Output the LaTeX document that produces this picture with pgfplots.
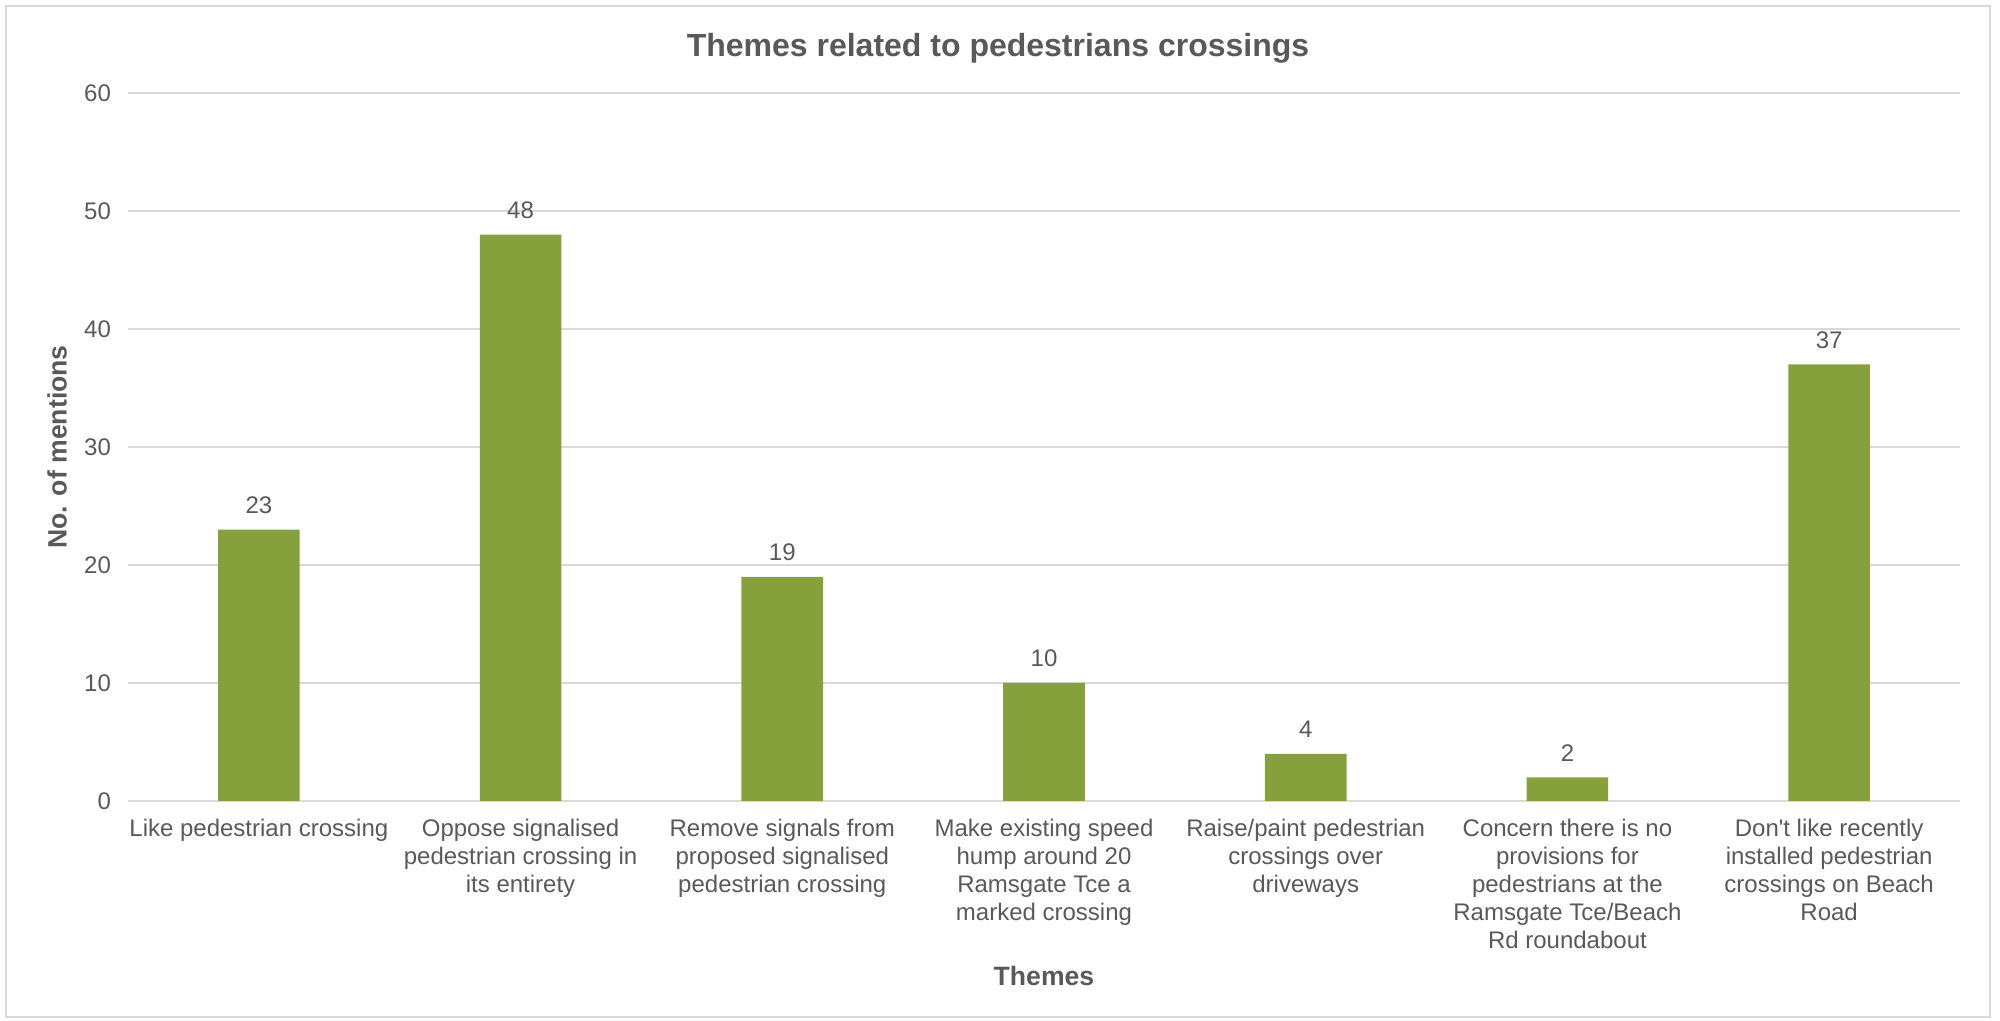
\documentclass[border=0pt]{standalone}
\usepackage{pgfplots}
\pgfplotsset{compat=1.18}
\usepackage{fontspec}
\setmainfont{Liberation Sans}[Ligatures=TeXOff]
\definecolor{bargreen}{HTML}{86A03C}
\definecolor{txtgray}{HTML}{595959}
\definecolor{gridgray}{HTML}{D9D9D9}
\begin{document}
\begin{tikzpicture}
\useasboundingbox (-64pt,-110pt) rectangle (936pt,400.5pt);
\draw[gridgray, line width=0.8pt] (-61pt,-108pt) rectangle (931pt,397.5pt);
\begin{axis}[
  at={(0pt,0pt)}, anchor=south west,
  scale only axis,
  width=916pt, height=354pt,
  xmin=-0.5, xmax=6.5,
  ymin=0, ymax=60,
  ytick={0,10,...,60},
  xtick={0,...,6},
  xticklabels={{Like pedestrian crossing},
    {Oppose signalised\\pedestrian crossing in\\its entirety},
    {Remove signals from\\proposed signalised\\pedestrian crossing},
    {Make existing speed\\hump around 20\\Ramsgate Tce a\\marked crossing},
    {Raise/paint pedestrian\\crossings over\\driveways},
    {Concern there is no\\provisions for\\pedestrians at the\\Ramsgate Tce/Beach\\Rd roundabout},
    {Don't like recently\\installed pedestrian\\crossings on Beach\\Road}},
  xticklabel style={font=\fontsize{12pt}{14pt}\selectfont, align=center, text=txtgray, anchor=north, yshift=-5.5pt},
  yticklabel style={font=\fontsize{12pt}{14pt}\selectfont, text=txtgray, xshift=-5pt},
  /pgf/number format/assume math mode=true,
  major tick length=0pt,
  axis line style={draw=none},
  ymajorgrids,
  grid style={gridgray, line width=0.8pt},
  ybar,
  bar width=40.8pt,
  title={Themes related to pedestrians crossings},
  title style={font=\bfseries\fontsize{16pt}{19pt}\selectfont, text=txtgray, at={(0.5,1)}, anchor=center, yshift=16.5pt, xshift=-23pt},
  xlabel={Themes},
  xlabel style={font=\bfseries\fontsize{13.3pt}{16pt}\selectfont, text=txtgray, at={(0.5,0)}, anchor=center, yshift=-87.5pt},
  ylabel={No. of mentions},
  ylabel style={font=\bfseries\fontsize{13.3pt}{16pt}\selectfont, text=txtgray, at={(0,0.5)}, anchor=center, yshift=35.5pt},
  nodes near coords,
  nodes near coords style={font=\fontsize{12pt}{14pt}\selectfont, text=txtgray, anchor=south, yshift=4.5pt},
  clip=false,
]
\addplot[fill=bargreen, draw=none] coordinates {(0,23) (1,48) (2,19) (3,10) (4,4) (5,2) (6,37)};
\end{axis}
\end{tikzpicture}
\end{document}
